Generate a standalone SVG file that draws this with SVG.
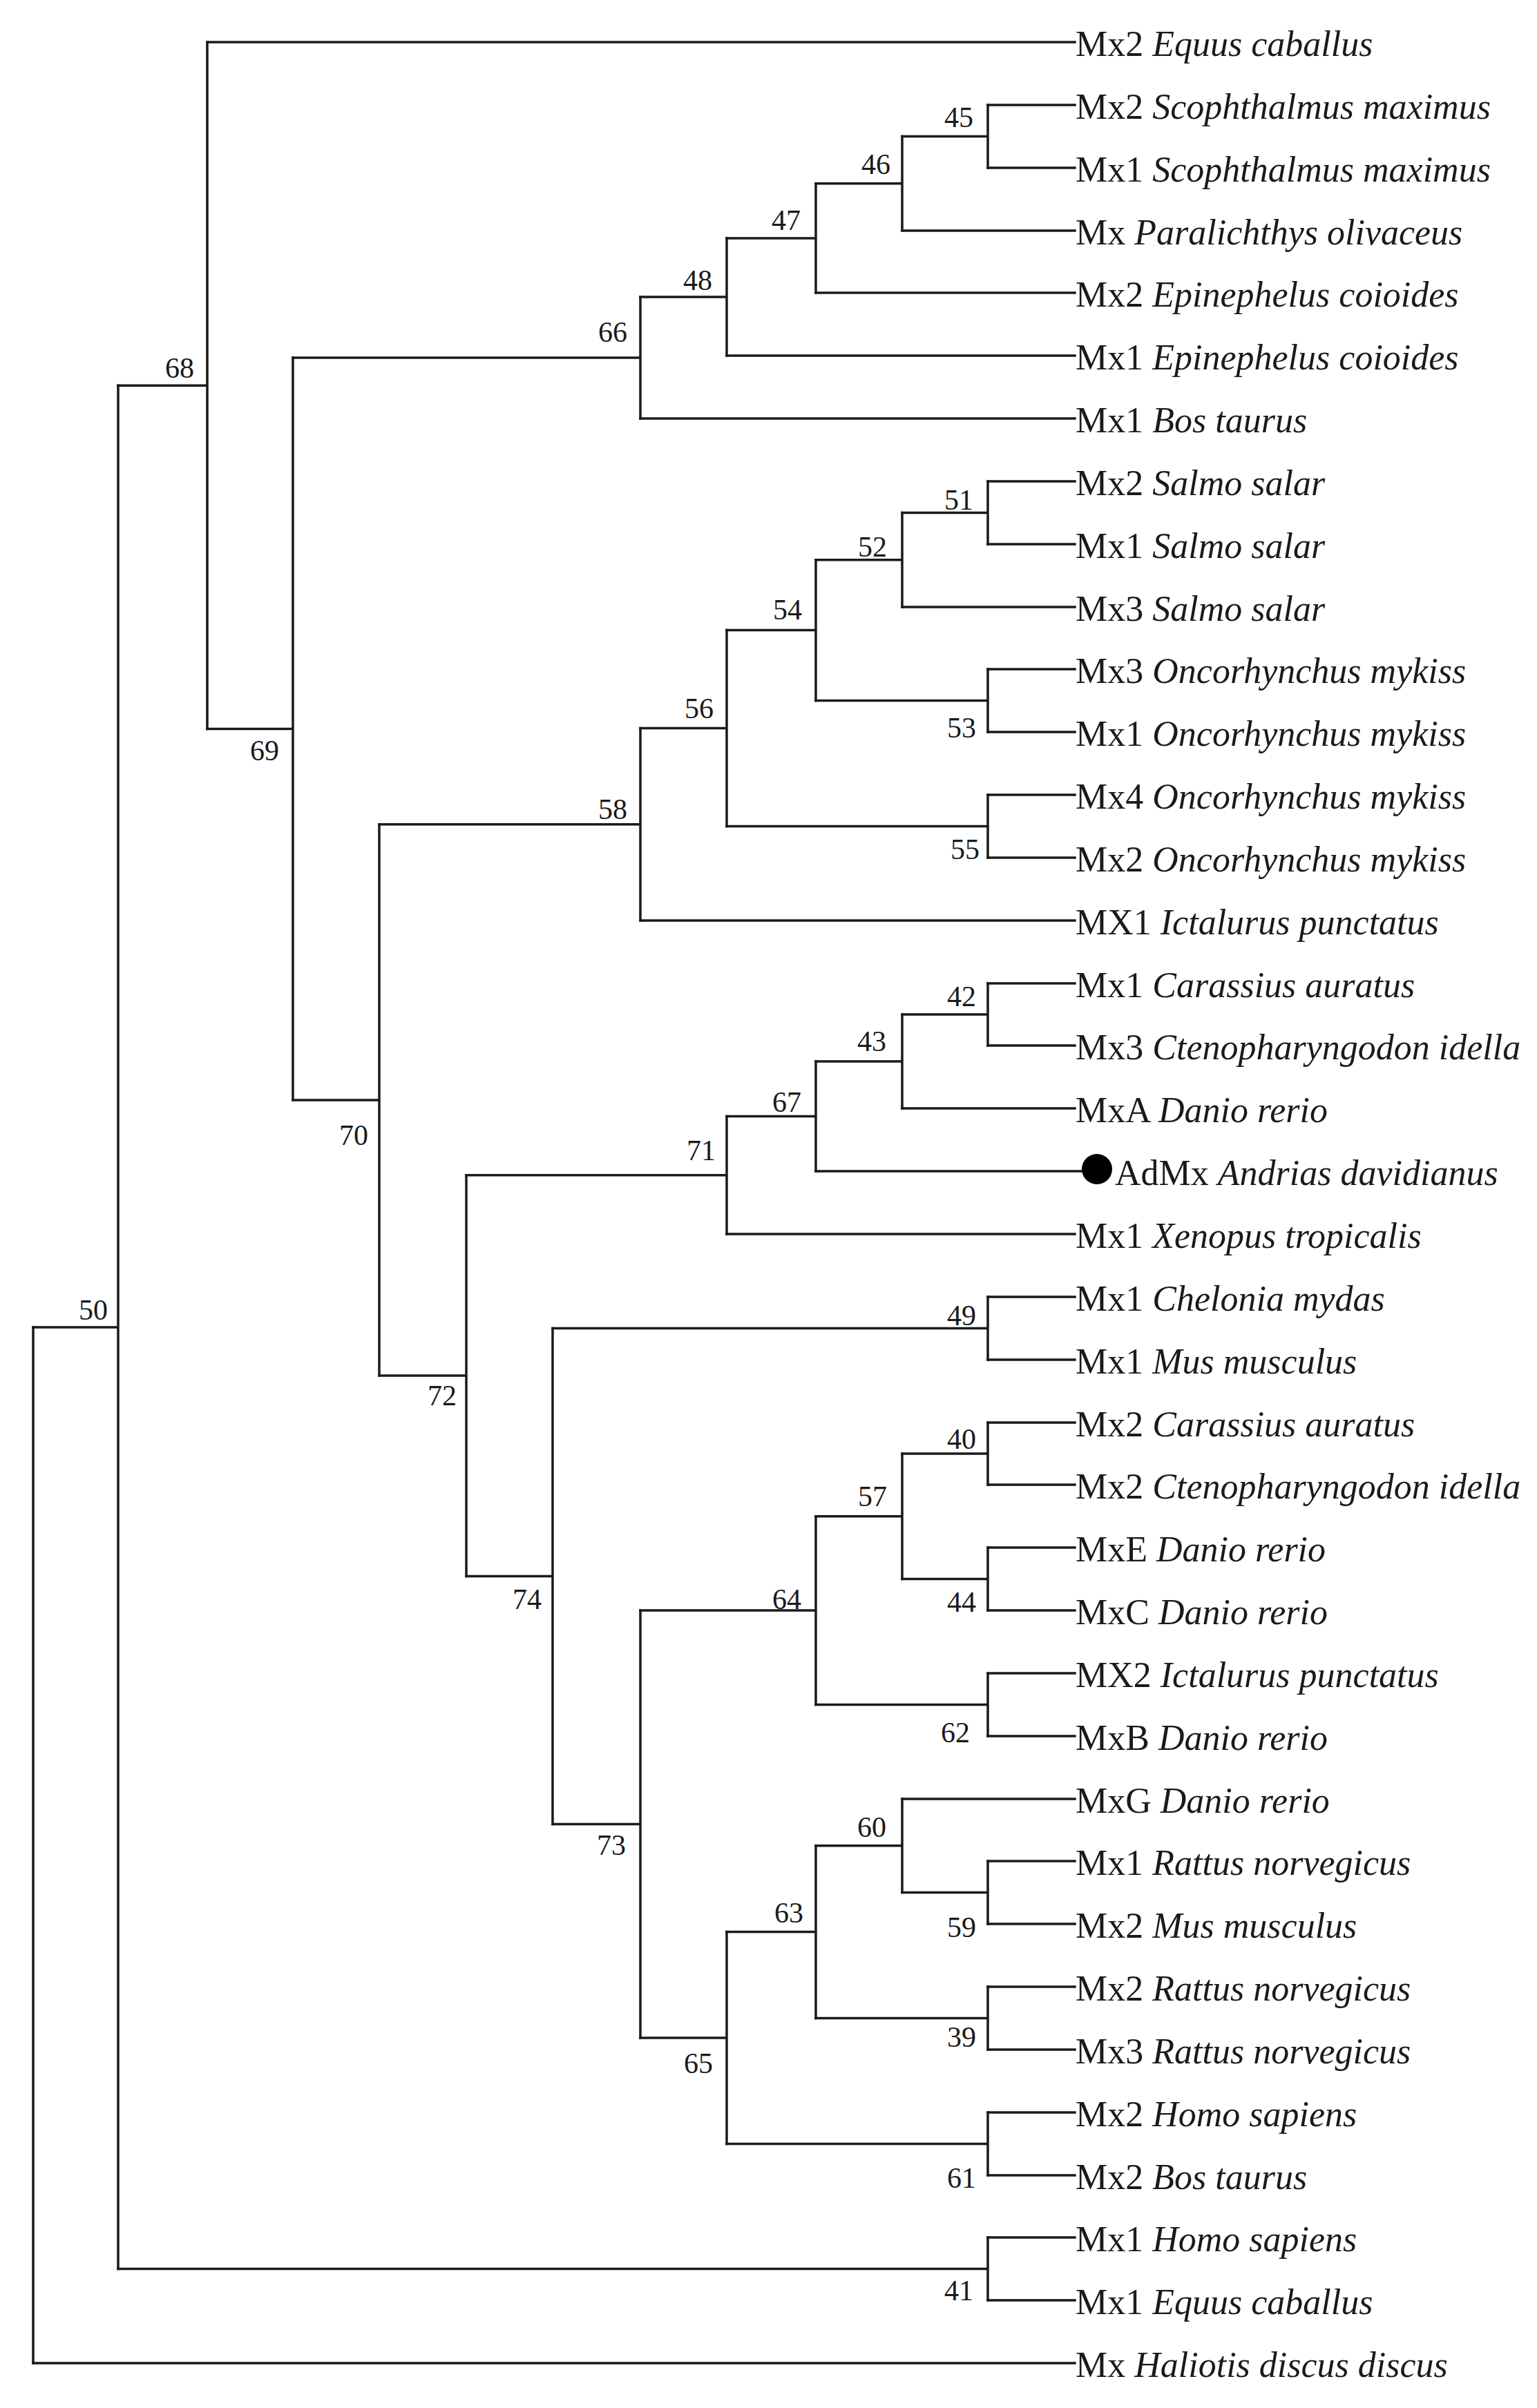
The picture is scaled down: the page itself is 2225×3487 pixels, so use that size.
<svg xmlns="http://www.w3.org/2000/svg" width="2225" height="3487" viewBox="0 0 2225 3487">
<style>
.br{fill:none;stroke:#1a1a1a;stroke-width:3.5;stroke-linecap:square}
.lf{font-family:"Liberation Serif","Times New Roman",serif;font-size:52px;fill:#1a1a1a}
.lf tspan{font-style:italic}
.bs{font-family:"Liberation Serif","Times New Roman",serif;font-size:42px;fill:#1a1a1a;text-anchor:middle}
</style>
<rect width="2225" height="3487" fill="#ffffff"/>
<g id="connectors" class="br">
<path d="M300,61H1556 M1430,152H1556 M1430,243H1556 M1306,334H1556 M1181,424H1556 M1052,515H1556 M927,606H1556 M1430,697H1556 M1430,788H1556 M1306,879H1556 M1430,969H1556 M1430,1060H1556 M1430,1151H1556 M1430,1242H1556 M927,1333H1556 M1430,1424H1556 M1430,1514H1556 M1306,1605H1556 M1181,1696H1566 M1052,1787H1556 M1430,1878H1556 M1430,1969H1556 M1430,2060H1556 M1430,2150H1556 M1430,2241H1556 M1430,2332H1556 M1430,2423H1556 M1430,2514H1556 M1306,2605H1556 M1430,2695H1556 M1430,2786H1556 M1430,2877H1556 M1430,2968H1556 M1430,3059H1556 M1430,3150H1556 M1430,3240H1556 M1430,3331H1556 M48,3422H1556"/>
<path d="M1306,197.5H1430 M1430,152V243"/>
<path d="M1181,265.75H1306 M1306,197.5V334"/>
<path d="M1052,344.9H1181 M1181,265.75V424"/>
<path d="M927,430H1052 M1052,344.9V515"/>
<path d="M424,518H927 M927,430V606"/>
<path d="M1306,742.5H1430 M1430,697V788"/>
<path d="M1181,810.75H1306 M1306,742.5V879"/>
<path d="M1181,1014.5H1430 M1430,969V1060"/>
<path d="M1052,912.6H1181 M1181,810.75V1014.5"/>
<path d="M1052,1196.5H1430 M1430,1151V1242"/>
<path d="M927,1054.6H1052 M1052,912.6V1196.5"/>
<path d="M549,1193.8H927 M927,1054.6V1333"/>
<path d="M1306,1469H1430 M1430,1424V1514"/>
<path d="M1181,1537H1306 M1306,1469V1605"/>
<path d="M1052,1616.5H1181 M1181,1537V1696"/>
<path d="M675,1701.75H1052 M1052,1616.5V1787"/>
<path d="M800,1923.5H1430 M1430,1878V1969"/>
<path d="M1306,2105H1430 M1430,2060V2150"/>
<path d="M1306,2286.5H1430 M1430,2241V2332"/>
<path d="M1181,2195.75H1306 M1306,2105V2286.5"/>
<path d="M1181,2468.5H1430 M1430,2423V2514"/>
<path d="M927,2332.1H1181 M1181,2195.75V2468.5"/>
<path d="M1306,2740.5H1430 M1430,2695V2786"/>
<path d="M1181,2672.75H1306 M1306,2605V2740.5"/>
<path d="M1181,2922.5H1430 M1430,2877V2968"/>
<path d="M1052,2797.6H1181 M1181,2672.75V2922.5"/>
<path d="M1052,3104.5H1430 M1430,3059V3150"/>
<path d="M927,2951H1052 M1052,2797.6V3104.5"/>
<path d="M800,2641.6H927 M927,2332.1V2951"/>
<path d="M675,2282.5H800 M800,1923.5V2641.6"/>
<path d="M549,1992.1H675 M675,1701.75V2282.5"/>
<path d="M424,1593H549 M549,1193.8V1992.1"/>
<path d="M300,1055.5H424 M424,518V1593"/>
<path d="M171,558.25H300 M300,61V1055.5"/>
<path d="M171,3285.5H1430 M1430,3240V3331"/>
<path d="M48,1921.9H171 M171,558.25V3285.5"/>
<path d="M48,1921.9V3422"/>
</g>
<g id="leaves" class="lf">
<g id="leaf0"><text x="1557" y="81">Mx2 <tspan>Equus caballus</tspan></text></g>
<g id="leaf1"><text x="1557" y="172">Mx2 <tspan>Scophthalmus maximus</tspan></text></g>
<g id="leaf2"><text x="1557" y="263">Mx1 <tspan>Scophthalmus maximus</tspan></text></g>
<g id="leaf3"><text x="1557" y="354">Mx <tspan>Paralichthys olivaceus</tspan></text></g>
<g id="leaf4"><text x="1557" y="444">Mx2 <tspan>Epinephelus coioides</tspan></text></g>
<g id="leaf5"><text x="1557" y="535">Mx1 <tspan>Epinephelus coioides</tspan></text></g>
<g id="leaf6"><text x="1557" y="626">Mx1 <tspan>Bos taurus</tspan></text></g>
<g id="leaf7"><text x="1557" y="717">Mx2 <tspan>Salmo salar</tspan></text></g>
<g id="leaf8"><text x="1557" y="808">Mx1 <tspan>Salmo salar</tspan></text></g>
<g id="leaf9"><text x="1557" y="899">Mx3 <tspan>Salmo salar</tspan></text></g>
<g id="leaf10"><text x="1557" y="989">Mx3 <tspan>Oncorhynchus mykiss</tspan></text></g>
<g id="leaf11"><text x="1557" y="1080">Mx1 <tspan>Oncorhynchus mykiss</tspan></text></g>
<g id="leaf12"><text x="1557" y="1171">Mx4 <tspan>Oncorhynchus mykiss</tspan></text></g>
<g id="leaf13"><text x="1557" y="1262">Mx2 <tspan>Oncorhynchus mykiss</tspan></text></g>
<g id="leaf14"><text x="1557" y="1353">MX1 <tspan>Ictalurus punctatus</tspan></text></g>
<g id="leaf15"><text x="1557" y="1444">Mx1 <tspan>Carassius auratus</tspan></text></g>
<g id="leaf16"><text x="1557" y="1534">Mx3 <tspan>Ctenopharyngodon idella</tspan></text></g>
<g id="leaf17"><text x="1557" y="1625">MxA <tspan>Danio rerio</tspan></text></g>
<g id="leaf18"><circle cx="1588" cy="1693" r="22" fill="#000000"/><text x="1614" y="1716">AdMx <tspan>Andrias davidianus</tspan></text></g>
<g id="leaf19"><text x="1557" y="1807">Mx1 <tspan>Xenopus tropicalis</tspan></text></g>
<g id="leaf20"><text x="1557" y="1898">Mx1 <tspan>Chelonia mydas</tspan></text></g>
<g id="leaf21"><text x="1557" y="1989">Mx1 <tspan>Mus musculus</tspan></text></g>
<g id="leaf22"><text x="1557" y="2080">Mx2 <tspan>Carassius auratus</tspan></text></g>
<g id="leaf23"><text x="1557" y="2170">Mx2 <tspan>Ctenopharyngodon idella</tspan></text></g>
<g id="leaf24"><text x="1557" y="2261">MxE <tspan>Danio rerio</tspan></text></g>
<g id="leaf25"><text x="1557" y="2352">MxC <tspan>Danio rerio</tspan></text></g>
<g id="leaf26"><text x="1557" y="2443">MX2 <tspan>Ictalurus punctatus</tspan></text></g>
<g id="leaf27"><text x="1557" y="2534">MxB <tspan>Danio rerio</tspan></text></g>
<g id="leaf28"><text x="1557" y="2625">MxG <tspan>Danio rerio</tspan></text></g>
<g id="leaf29"><text x="1557" y="2715">Mx1 <tspan>Rattus norvegicus</tspan></text></g>
<g id="leaf30"><text x="1557" y="2806">Mx2 <tspan>Mus musculus</tspan></text></g>
<g id="leaf31"><text x="1557" y="2897">Mx2 <tspan>Rattus norvegicus</tspan></text></g>
<g id="leaf32"><text x="1557" y="2988">Mx3 <tspan>Rattus norvegicus</tspan></text></g>
<g id="leaf33"><text x="1557" y="3079">Mx2 <tspan>Homo sapiens</tspan></text></g>
<g id="leaf34"><text x="1557" y="3170">Mx2 <tspan>Bos taurus</tspan></text></g>
<g id="leaf35"><text x="1557" y="3260">Mx1 <tspan>Homo sapiens</tspan></text></g>
<g id="leaf36"><text x="1557" y="3351">Mx1 <tspan>Equus caballus</tspan></text></g>
<g id="leaf37"><text x="1557" y="3442">Mx <tspan>Haliotis discus discus</tspan></text></g>
</g>
<g id="nodes" class="bs">
<g id="n68"><text x="260" y="547">68</text></g>
<g id="n66"><text x="887" y="495">66</text></g>
<g id="n48"><text x="1010" y="420">48</text></g>
<g id="n45"><text x="1388" y="184">45</text></g>
<g id="n46"><text x="1268" y="252">46</text></g>
<g id="n47"><text x="1138" y="333">47</text></g>
<g id="n69"><text x="383" y="1101">69</text></g>
<g id="n58"><text x="887" y="1186">58</text></g>
<g id="n56"><text x="1012" y="1040">56</text></g>
<g id="n51"><text x="1388" y="738">51</text></g>
<g id="n52"><text x="1263" y="806">52</text></g>
<g id="n54"><text x="1140" y="897">54</text></g>
<g id="n53"><text x="1392" y="1068">53</text></g>
<g id="n55"><text x="1397" y="1244">55</text></g>
<g id="n70"><text x="512" y="1658">70</text></g>
<g id="n71"><text x="1015" y="1680">71</text></g>
<g id="n72"><text x="640" y="2035">72</text></g>
<g id="n50"><text x="135" y="1911">50</text></g>
<g id="n42"><text x="1392" y="1457">42</text></g>
<g id="n43"><text x="1262" y="1522">43</text></g>
<g id="n67"><text x="1139" y="1610">67</text></g>
<g id="n49"><text x="1392" y="1919">49</text></g>
<g id="n40"><text x="1392" y="2098">40</text></g>
<g id="n74"><text x="763" y="2330">74</text></g>
<g id="n73"><text x="885" y="2686">73</text></g>
<g id="n57"><text x="1263" y="2181">57</text></g>
<g id="n64"><text x="1139" y="2330">64</text></g>
<g id="n44"><text x="1392" y="2334">44</text></g>
<g id="n62"><text x="1383" y="2523">62</text></g>
<g id="n60"><text x="1262" y="2660">60</text></g>
<g id="n63"><text x="1142" y="2784">63</text></g>
<g id="n59"><text x="1392" y="2805">59</text></g>
<g id="n65"><text x="1011" y="3002">65</text></g>
<g id="n39"><text x="1392" y="2964">39</text></g>
<g id="n61"><text x="1392" y="3168">61</text></g>
<g id="n41"><text x="1388" y="3331">41</text></g>
</g>
</svg>
